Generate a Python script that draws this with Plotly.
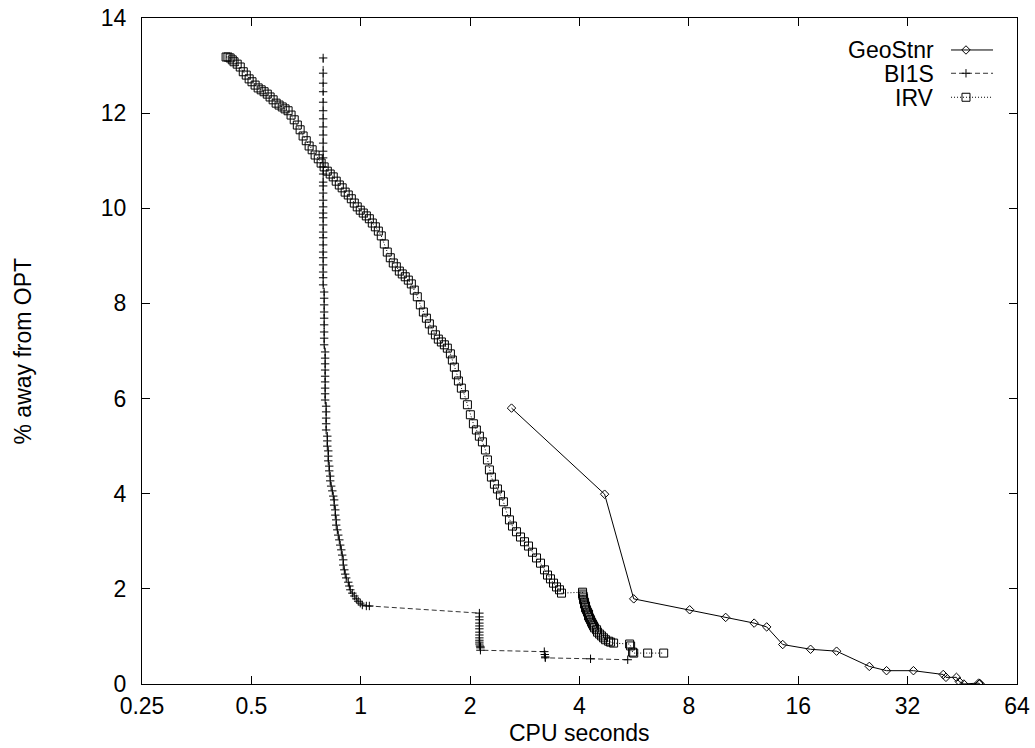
import math
import plotly.graph_objects as go

# ---------------- data ----------------
X_TICKS = [0.25, 0.5, 1, 2, 4, 8, 16, 32, 64]
X_TICK_TEXT = ["0.25", "0.5", "1", "2", "4", "8", "16", "32", "64"]
Y_TICKS = [0, 2, 4, 6, 8, 10, 12, 14]
Y_TICK_TEXT = ["0", "2", "4", "6", "8", "10", "12", "14"]

SERIES_NAMES = ["GeoStnr", "BI1S", "IRV"]

GEO_X = [2.60, 4.69, 5.64, 8.04, 10.1, 12.1, 13.1, 14.5, 17.3, 20.4, 25.1,
         28.0, 33.2, 40.1, 40.8, 43.6, 44.4, 45.7, 50.2, 50.4, 50.6]
GEO_Y = [5.80, 3.99, 1.79, 1.56, 1.40, 1.28, 1.20, 0.83, 0.73, 0.69, 0.37,
         0.28, 0.28, 0.20, 0.14, 0.14, 0.05, 0.00, 0.02, 0.00, 0.01]

BI1S_X = [0.788, 0.788, 0.788, 0.788, 0.788, 0.788, 0.788, 0.788, 0.788, 0.788,
          0.788, 0.788, 0.788, 0.788, 0.788, 0.788, 0.788, 0.788, 0.788, 0.788,
          0.788, 0.788, 0.788, 0.788, 0.788, 0.788, 0.788, 0.788, 0.788, 0.788,
          0.788,
          0.793, 0.793, 0.793, 0.793, 0.793, 0.793, 0.793, 0.793, 0.793,
          0.798, 0.798, 0.798, 0.798, 0.798, 0.798, 0.798, 0.798, 0.798,
          0.803, 0.803, 0.803, 0.803, 0.803,
          0.809, 0.809, 0.809,
          0.814, 0.814, 0.814,
          0.819, 0.819,
          0.824, 0.824,
          0.829, 0.835, 0.840,
          0.845, 0.845,
          0.851, 0.851,
          0.856, 0.856,
          0.862, 0.867, 0.873, 0.878, 0.884, 0.889, 0.895, 0.895, 0.901, 0.906,
          0.912, 0.924, 0.930, 0.936, 0.948, 0.960, 0.972, 0.984, 0.997, 1.010,
          1.036, 1.056,
          2.121, 2.121, 2.121, 2.121, 2.121, 2.121, 2.121, 2.121, 2.121, 2.121,
          2.121, 2.121, 2.128, 2.135, 2.135, 2.135,
          3.20, 3.21, 3.22, 3.22, 4.29, 5.43]
BI1S_Y = [13.16, 12.84, 12.63, 12.45, 12.23, 12.05, 11.88, 11.71, 11.54, 11.37,
          11.20, 11.06, 10.87, 10.72, 10.55, 10.47, 10.32, 10.17, 10.03, 9.90,
          9.80, 9.65, 9.50, 9.38, 9.23, 9.08, 8.96, 8.81, 8.66, 8.54,
          8.39,
          8.24, 8.11, 7.97, 7.82, 7.69, 7.55, 7.40, 7.27, 7.13,
          6.98, 6.85, 6.73, 6.60, 6.47, 6.35, 6.22, 6.10, 5.97,
          5.84, 5.72, 5.59, 5.47, 5.34,
          5.21, 5.11, 5.00,
          4.90, 4.79, 4.69,
          4.58, 4.48,
          4.37, 4.27,
          4.16, 4.06, 3.95,
          3.87, 3.76,
          3.66, 3.55,
          3.45, 3.34,
          3.24, 3.13, 3.03, 2.92, 2.82, 2.71, 2.61, 2.50, 2.40, 2.31,
          2.23, 2.14, 2.06, 1.98, 1.91, 1.85, 1.79, 1.74, 1.70, 1.66,
          1.64, 1.64,
          1.49, 1.41, 1.35, 1.28, 1.22, 1.16, 1.09, 1.03, 0.97, 0.92,
          0.88, 0.84, 0.80, 0.78, 0.76, 0.71,
          0.68, 0.62, 0.57, 0.55, 0.53, 0.51]

IRV_X = [0.426, 0.431, 0.437, 0.443, 0.448, 0.457, 0.466, 0.475, 0.484, 0.493,
         0.502, 0.512, 0.522, 0.532, 0.542, 0.553, 0.563, 0.574, 0.585, 0.596,
         0.608, 0.619, 0.631, 0.643, 0.656, 0.669, 0.681, 0.694, 0.708, 0.721,
         0.735, 0.749, 0.764, 0.778, 0.793, 0.809, 0.824, 0.840, 0.856, 0.873,
         0.889, 0.906, 0.924, 0.942, 0.960, 0.978, 0.997, 1.016, 1.036, 1.056,
         1.076, 1.097, 1.118, 1.139, 1.161, 1.183, 1.206, 1.229, 1.253, 1.277,
         1.301, 1.326, 1.352, 1.378, 1.404, 1.431, 1.459, 1.487, 1.516, 1.545,
         1.574, 1.605, 1.635, 1.667, 1.699, 1.731, 1.765, 1.787, 1.810, 1.833,
         1.857, 1.892, 1.929, 1.966, 2.003, 2.042, 2.081, 2.121, 2.162, 2.204,
         2.232, 2.260, 2.289, 2.333, 2.378, 2.424, 2.470, 2.518, 2.566, 2.616,
         2.683, 2.752, 2.823, 2.895, 2.969, 3.046, 3.124, 3.204, 3.266, 3.328,
         3.393, 3.458, 3.524, 3.569,
         4.078, 4.078, 4.091, 4.104, 4.104, 4.130, 4.130, 4.156, 4.156, 4.183,
         4.209, 4.236, 4.236, 4.263, 4.290, 4.318, 4.345, 4.373, 4.401, 4.457,
         4.485, 4.543, 4.600, 4.659, 4.719, 4.810, 4.871, 4.965,
         5.495, 5.53, 5.60, 5.64, 6.16, 6.82]
IRV_Y = [13.18, 13.18, 13.16, 13.12, 13.08, 13.03, 12.97, 12.87, 12.80, 12.72,
         12.66, 12.59, 12.53, 12.49, 12.45, 12.40, 12.34, 12.28, 12.21, 12.17,
         12.13, 12.09, 12.05, 11.96, 11.86, 11.75, 11.65, 11.52, 11.42, 11.31,
         11.23, 11.12, 11.04, 10.95, 10.87, 10.78, 10.72, 10.66, 10.57, 10.49,
         10.43, 10.34, 10.28, 10.20, 10.11, 10.03, 9.96, 9.90, 9.84, 9.78,
         9.69, 9.61, 9.52, 9.42, 9.25, 9.08, 8.96, 8.85, 8.77, 8.68,
         8.62, 8.56, 8.49, 8.41, 8.28, 8.14, 7.97, 7.82, 7.69, 7.57,
         7.44, 7.34, 7.25, 7.19, 7.13, 7.06, 6.94, 6.81, 6.66, 6.50,
         6.37, 6.22, 6.08, 5.87, 5.66, 5.47, 5.34, 5.21, 5.09, 4.92,
         4.71, 4.50, 4.35, 4.20, 4.10, 3.97, 3.83, 3.62, 3.45, 3.32,
         3.20, 3.09, 2.99, 2.90, 2.77, 2.65, 2.54, 2.40, 2.29, 2.21,
         2.12, 2.04, 1.98, 1.91,
         1.93, 1.89, 1.85, 1.81, 1.77, 1.72, 1.68, 1.64, 1.60, 1.56,
         1.51, 1.47, 1.43, 1.39, 1.35, 1.30, 1.26, 1.22, 1.18, 1.14,
         1.09, 1.05, 1.01, 0.97, 0.93, 0.90, 0.88, 0.86,
         0.84, 0.80, 0.67, 0.65, 0.65, 0.65]

# ---------------- styles ----------------
FONT = "Liberation Sans, Arial, Helvetica, sans-serif"
FS = 23
INK = "black"

STYLES = [
    dict(line=dict(color=INK, width=1, dash="solid"),
         marker=dict(symbol="diamond-open", size=6.5, color=INK,
                     line=dict(color=INK, width=1))),
    dict(line=dict(color="#333333", width=1, dash="5px,3px"),
         marker=dict(symbol="cross-thin-open", size=6, color=INK,
                     line=dict(color=INK, width=1))),
    dict(line=dict(color=INK, width=1, dash="1px,2px"),
         marker=dict(symbol="square-open", size=8, color=INK,
                     line=dict(color=INK, width=1))),
]

DATA = [(GEO_X, GEO_Y), (BI1S_X, BI1S_Y), (IRV_X, IRV_Y)]

fig = go.Figure()
for (xs, ys), st, name in zip(DATA, STYLES, SERIES_NAMES):
    fig.add_trace(go.Scatter(x=xs, y=ys, mode="lines+markers", name=name,
                             line=st["line"], marker=st["marker"],
                             showlegend=False, hoverinfo="skip"))

# ---------------- gnuplot-style key (text, then sample) ----------------
KEY_TEXT_RIGHT = 0.9063
KEY_LINE_X0, KEY_LINE_X1, KEY_MARK_X = 0.9246, 0.9726, 0.9417
KEY_ROWS = [0.952, 0.917, 0.881]
for st, name, ky in zip(STYLES, SERIES_NAMES, KEY_ROWS):
    fig.add_trace(go.Scatter(x=[KEY_LINE_X0, KEY_LINE_X1], y=[ky, ky],
                             mode="lines", line=st["line"], xaxis="x2",
                             yaxis="y2", showlegend=False, hoverinfo="skip"))
    fig.add_trace(go.Scatter(x=[KEY_MARK_X], y=[ky], mode="markers",
                             marker=st["marker"], xaxis="x2", yaxis="y2",
                             showlegend=False, hoverinfo="skip"))
    fig.add_annotation(text=name, x=KEY_TEXT_RIGHT, y=ky, xref="paper",
                       yref="paper", xanchor="right", yanchor="middle",
                       height=21, borderpad=0, showarrow=False,
                       font=dict(family=FONT, size=FS, color=INK))

axis_common = dict(showline=True, linecolor=INK, linewidth=1, mirror="allticks",
                   ticks="inside", ticklen=8, tickwidth=1, tickcolor=INK,
                   showgrid=False, zeroline=False, automargin=False,
                   tickfont=dict(family=FONT, size=FS, color=INK))

fig.update_layout(
    width=1035, height=748, autosize=False,
    margin=dict(l=142, r=18, t=18, b=64, pad=0, autoexpand=False),
    paper_bgcolor="white", plot_bgcolor="white",
    showlegend=False,
    xaxis=dict(type="log", range=[math.log10(0.25), math.log10(64)],
               tickvals=X_TICKS, ticktext=X_TICK_TEXT, ticklabelstandoff=1,
               **axis_common),
    yaxis=dict(range=[0, 14], tickvals=Y_TICKS, ticktext=Y_TICK_TEXT,
               ticklabelstandoff=10, **axis_common),
    xaxis2=dict(overlaying="x", range=[0, 1], visible=False, anchor="y2"),
    yaxis2=dict(overlaying="y", range=[0, 1], visible=False, anchor="x2"),
)

fig.add_annotation(text="CPU seconds", x=0.5, y=0, xref="paper", yref="paper",
                   xanchor="center", yanchor="middle", yshift=-49, height=22,
                   showarrow=False, font=dict(family=FONT, size=FS, color=INK))
fig.add_annotation(text="% away from OPT", x=0, y=0.5, xref="paper", yref="paper",
                   xanchor="center", yanchor="middle", xshift=-119.5,
                   textangle=-90, showarrow=False,
                   font=dict(family=FONT, size=FS, color=INK))

fig.write_html(
    "out.html",
    config={"displayModeBar": False, "responsive": False},
    post_script="document.body.style.margin='0';document.body.style.overflow='hidden';",
)
